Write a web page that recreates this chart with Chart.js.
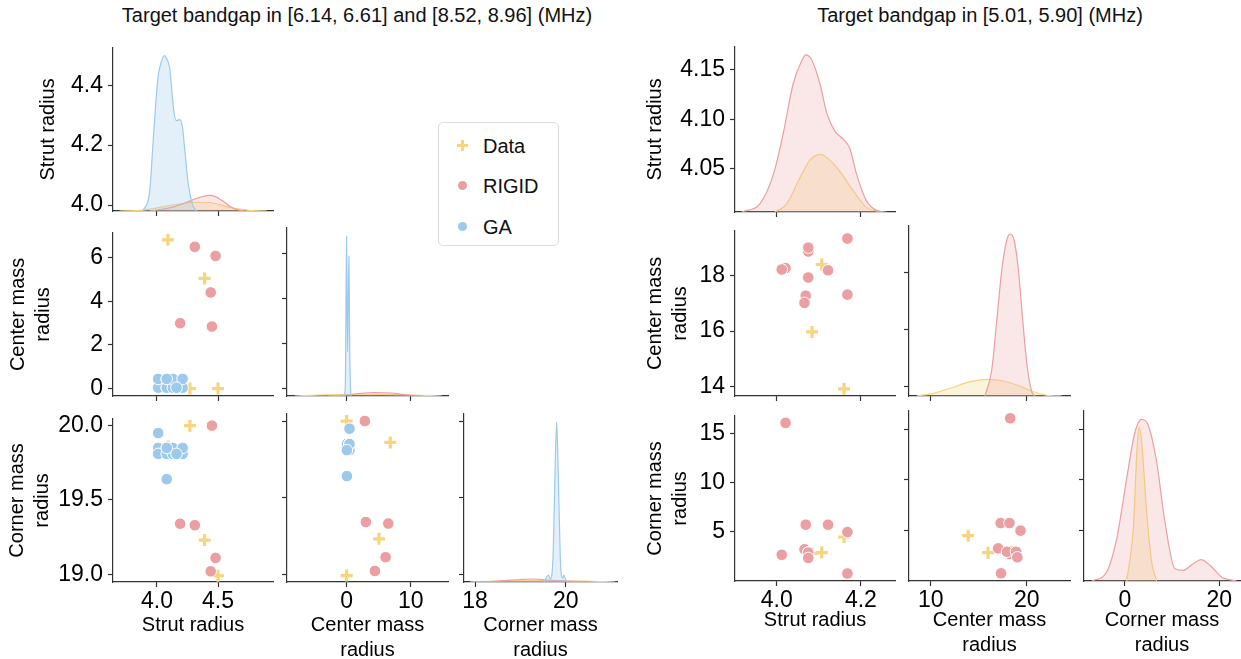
<!DOCTYPE html>
<html>
<head>
<meta charset="utf-8">
<script src="https://cdn.jsdelivr.net/npm/chart.js@4.4.1/dist/chart.umd.min.js"></script>
<style>
  html, body { margin: 0; padding: 0; background: #fff; width: 1241px; height: 659px; overflow: hidden; position: relative; }
  .ttl { position: absolute; top: 3px; font: 20px "Liberation Sans", Arial, sans-serif; color: #111; white-space: nowrap; transform: translateX(-50%); line-height: 24px; }
  .legend { position: absolute; left: 438px; top: 122px; width: 121px; height: 124px; border: 1px solid #dcdcdc; border-radius: 5px; box-sizing: border-box; background: #fff; font: 20px "Liberation Sans", Arial, sans-serif; color: #111; }
  .legend .item { position: absolute; left: 44px; line-height: 24px; }
  .legend .dot { position: absolute; left: 19px; width: 9px; height: 9px; border-radius: 50%; }
  .legend .plus { position: absolute; left: 18px; width: 11px; height: 11px; }
  .legend .plus::before, .legend .plus::after { content: ""; position: absolute; background: #f6d57c; }
  .legend .plus::before { left: 4px; top: 0; width: 3px; height: 11px; }
  .legend .plus::after { left: 0; top: 4px; width: 11px; height: 3px; }
</style>
</head>
<body>
<div class="ttl" style="left:357px">Target bandgap in [6.14, 6.61] and [8.52, 8.96] (MHz)</div>
<div class="ttl" style="left:980px">Target bandgap in [5.01, 5.90] (MHz)</div>
<div class="legend">
  <span class="plus" style="top:17px"></span><span class="item" style="top:11px">Data</span>
  <span class="dot" style="top:58px;background:#eb9fa2"></span><span class="item" style="top:51px">RIGID</span>
  <span class="dot" style="top:99px;background:#9dcaea"></span><span class="item" style="top:92px">GA</span>
</div>
<script>
// ---- названия переменных и подписи осей ----
const varNames = ['Strut radius', ['Center mass', 'radius'], ['Corner mass', 'radius']];

// ---- левая панель: точки ----
const leftDataStrut  = [4.09, 4.39, 4.27, 4.50];
const leftDataCenter = [6.81, 5.04, 0.00, 0.00];
const leftDataCorner = [19.86, 19.23, 20.00, 18.99];

const leftRigidStrut  = [4.45, 4.19, 4.31, 4.48, 4.44];
const leftRigidCenter = [2.84, 2.99, 6.49, 6.07, 4.40];
const leftRigidCorner = [20.00, 19.34, 19.33, 19.11, 19.02];

const leftGaStrut  = [4.01, 4.01, 4.01, 4.08, 4.08, 4.08, 4.13, 4.13, 4.21, 4.21, 4.08, 4.16];
const leftGaCenter = [0.44, 0.04, 0.44, 0.04, 0.44, 0.04, 0.04, 0.44, 0.04, 0.44, 0.44, 0.04];
const leftGaCorner = [19.95, 19.85, 19.81, 19.85, 19.81, 19.64, 19.81, 19.85, 19.81, 19.85, 19.85, 19.81];

// ---- левая панель: KDE (x, плотность) ----
const lStrutGaX = [3.885, 3.940, 3.973, 4.008, 4.036, 4.063, 4.079, 4.104, 4.137, 4.159, 4.186, 4.208, 4.227, 4.254, 4.290, 4.323];
const lStrutGaY = [0, 0.20, 0.80, 1.37, 1.54, 1.60, 1.57, 1.47, 1.04, 0.93, 0.94, 0.87, 0.64, 0.30, 0.07, 0];
const lStrutRigidX = [3.940, 3.998, 4.129, 4.243, 4.350, 4.432, 4.473, 4.530, 4.596, 4.653, 4.719];
const lStrutRigidY = [0, 0.01, 0.04, 0.09, 0.14, 0.16, 0.15, 0.11, 0.05, 0.015, 0];
const lStrutDataX = [3.694, 3.883, 4.129, 4.325, 4.448, 4.571, 4.735, 4.899];
const lStrutDataY = [0, 0.01, 0.06, 0.09, 0.085, 0.045, 0.01, 0];

const lCenterGaX = [-0.45, -0.20, -0.08, 0.00, 0.07, 0.15, 0.25, 0.36, 0.46, 0.60, 0.72];
const lCenterGaY = [0, 0.10, 1.10, 1.60, 0.90, 0.44, 0.95, 1.40, 0.60, 0.08, 0];
const lCenterRigidX = [-3, 0, 2, 4.5, 7, 9, 12];
const lCenterRigidY = [0, 0.01, 0.025, 0.035, 0.03, 0.015, 0];
const lCenterDataX = [-8.1, -4, 0, 3, 6, 10, 14.8];
const lCenterDataY = [0, 0.01, 0.015, 0.02, 0.015, 0.01, 0];

const lCornerGaX = [19.52, 19.58, 19.62, 19.66, 19.72, 19.77, 19.80, 19.83, 19.88, 19.93, 19.96, 20.00, 20.05];
const lCornerGaY = [0, 0.05, 0.07, 0.03, 0.25, 1.20, 1.60, 1.20, 0.25, 0.04, 0.07, 0.02, 0];
const lCornerRigidX = [18.0, 18.5, 19.0, 19.3, 19.6, 20.0, 20.5];
const lCornerRigidY = [0, 0.01, 0.025, 0.03, 0.02, 0.01, 0];
const lCornerDataX = [17.89, 18.5, 19.2, 19.8, 20.4, 21.09];
const lCornerDataY = [0, 0.01, 0.012, 0.012, 0.01, 0];

// ---- правая панель: точки ----
const rightDataStrut  = [4.107, 4.084, 4.160];
const rightDataCenter = [18.41, 15.97, 13.91];
const rightDataCorner = [2.89, 2.80, 4.47];

const rightRigidStrut  = [4.021, 4.069, 4.122, 4.168, 4.168, 4.012, 4.066, 4.075, 4.075, 4.075];
const rightRigidCenter = [18.28, 17.28, 18.20, 19.35, 17.32, 18.23, 17.02, 17.94, 18.88, 19.02];
const rightRigidCorner = [16.06, 5.72, 5.72, 4.97, 0.76, 2.66, 3.22, 2.89, 2.89, 2.34];

// ---- правая панель: KDE ----
const rStrutRigidX = [3.917, 3.960, 3.992, 4.016, 4.039, 4.059, 4.069, 4.083, 4.103, 4.119, 4.138, 4.158, 4.174, 4.190, 4.213, 4.237, 4.261];
const rStrutRigidY = [0, 0.084, 0.384, 0.817, 1.317, 1.55, 1.617, 1.567, 1.317, 1.017, 0.834, 0.75, 0.65, 0.384, 0.117, 0.017, 0];
const rStrutDataX = [3.996, 4.024, 4.055, 4.079, 4.105, 4.126, 4.150, 4.182, 4.213, 4.249];
const rStrutDataY = [0, 0.084, 0.35, 0.534, 0.594, 0.534, 0.417, 0.217, 0.05, 0];

const rCenterRigidX = [15.66, 16.35, 16.88, 17.40, 17.92, 18.26, 18.68, 19.13, 19.58, 20.00, 20.52, 20.86];
const rCenterRigidY = [0, 0.26, 0.76, 1.26, 1.56, 1.62, 1.56, 1.26, 0.76, 0.327, 0.043, 0];
const rCenterDataX = [8.54, 10.27, 12.01, 13.75, 16.00, 17.56, 18.96, 20.69, 22.43, 23.65];
const rCenterDataY = [0, 0.027, 0.077, 0.134, 0.167, 0.15, 0.11, 0.043, 0.003, 0];

const rCornerRigidX = [-7.06, -3.88, -1.76, 0.36, 2.12, 3.54, 4.94, 6.72, 8.48, 10.6, 12.36, 14.48, 16.11, 18.02, 20.5, 23.68];
const rCornerRigidY = [0, 0.09, 0.423, 1.023, 1.49, 1.617, 1.557, 1.19, 0.59, 0.123, 0.107, 0.173, 0.213, 0.157, 0.04, 0];
const rCornerDataX = [0.36, 1.76, 2.61, 3.03, 3.60, 4.60, 5.66, 6.72];
const rCornerDataY = [0, 0.523, 1.36, 1.54, 1.36, 0.69, 0.19, 0];

// ---- тики ----
const lStrutTicks = [4.0, 4.5], lStrutYTicks = [4.0, 4.2, 4.4];
const lCenterTicks = [0, 10], lCenterYTicks = [0, 2, 4, 6];
const lCornerTicks = [18, 20], lCornerYTicks = [19.0, 19.5, 20.0];
const rStrutTicks = [4.0, 4.2], rStrutYTicks = [4.05, 4.10, 4.15];
const rCenterTicks = [10, 20], rCenterYTicks = [14, 16, 18];
const rCornerTicks = [0, 20], rCornerYTicks = [5, 10, 15];

/* ── оформление ───────────────────────────────────────── */
const FONT = '"Liberation Sans", Arial, sans-serif';
const AX = '#333', TXT = '#000';
const C_DATA = '#f6d57c', C_RIGID = '#eb9fa2', C_GA = '#9dcaea';
const F_DATA = 'rgba(246,213,124,0.28)', F_RIGID = 'rgba(235,159,162,0.25)', F_GA = 'rgba(157,202,234,0.28)';
const PADL = 140, PADR = 14, PADT = 14, PADB = 90, LH = 25;

function pts(xs, ys) { return xs.map((x, i) => ({ x: x, y: ys[i] })); }

function kde(xs, ys, color, fill) {
    return { data: pts(xs, ys), borderColor: color, backgroundColor: fill, borderWidth: 1.2,
             fill: 'origin', pointRadius: 0, cubicInterpolationMode: 'monotone', yAxisID: 'yd' };
}
function dots(xs, ys, color) {
    return { data: pts(xs, ys), pointStyle: 'circle', pointRadius: 5.8, backgroundColor: color,
             borderColor: '#fff', borderWidth: 1, clip: false };
}
function plus(xs, ys) {
    return { data: pts(xs, ys), pointStyle: 'cross', pointRadius: 6, borderColor: C_DATA,
             borderWidth: 3.2, clip: false };
}

function axis(range, ticks, dec, showLabels, title, fit, horiz) {
    return {
        type: 'linear', min: range[0], max: range[1],
        afterBuildTicks: s => { s.ticks = ticks.map(v => ({ value: v })); },
        afterFit: fit,
        grid: { display: true, drawOnChartArea: false, drawTicks: true, tickLength: 5, color: AX, tickWidth: 1.2 },
        border: { display: true, color: AX, width: 1.2 },
        ticks: { display: showLabels, autoSkip: false, maxRotation: 0, padding: horiz ? 1 : 5, color: TXT,
                 font: { family: FONT, size: 23 }, callback: v => Number(v).toFixed(dec) },
        title: title
    };
}

function panel(p) {
    const W = p.x1 - p.x0, H = p.y1 - p.y0;
    const cw = PADL + W + PADR, ch = PADT + H + PADB;
    const cv = document.createElement('canvas');
    cv.width = cw; cv.height = ch;
    cv.style.cssText = 'position:absolute;left:' + (p.x0 - PADL) + 'px;top:' + (p.y0 - PADT) + 'px;width:' + cw + 'px;height:' + ch + 'px';
    document.body.appendChild(cv);

    const tfont = { family: FONT, size: 20, lineHeight: LH / 20 };
    let xTitle = { display: false }, yTitle = { display: false };
    if (p.xTitle) {
        const n = Array.isArray(p.xTitle) ? p.xTitle.length : 1;
        xTitle = { display: true, text: p.xTitle, color: TXT, font: tfont,
                   padding: { top: 0, bottom: p.y1 + PADB - p.xTitleY - LH * (n - 1) - LH / 2 } };
    }
    if (p.yTitle) {
        yTitle = { display: true, text: p.yTitle, color: TXT, font: tfont,
                   padding: { top: p.yTitleX - (p.x0 - PADL) - LH / 2, bottom: 0 } };
    }
    const scales = {
        x: axis(p.xr, p.xt, p.xd, p.showX, xTitle, s => { s.height = PADB; }, true),
        y: axis(p.yr, p.yt, p.yd, p.showY, yTitle, s => { s.width = PADL; }, false)
    };
    if (p.diag) scales.yd = { display: false, min: 0, max: H / 100 };

    new Chart(cv, {
        type: p.diag ? 'line' : 'scatter',
        data: { datasets: p.datasets },
        options: {
            responsive: false, animation: false, devicePixelRatio: 1,
            layout: { padding: { left: 0, top: PADT, right: PADR, bottom: 0 } },
            plugins: { legend: { display: false }, tooltip: { enabled: false } },
            scales: scales
        }
    });
}

/* ── сборка pairplot ──────────────────────────────────── */
function pairplot(cfg) {
    for (let r = 0; r < 3; r++) {
        for (let c = 0; c <= r; c++) {
            const ds = (r === c) ? cfg.kdes[c]
                : [].concat(
                    cfg.ga ? [dots(cfg.ga[c], cfg.ga[r], C_GA)] : [],
                    [dots(cfg.rigid[c], cfg.rigid[r], C_RIGID)],
                    [plus(cfg.data[c], cfg.data[r])]
                );
            panel({
                x0: cfg.cols[c][0], x1: cfg.cols[c][1], y0: cfg.rows[r][0], y1: cfg.rows[r][1],
                xr: cfg.xr[c], xt: cfg.xt[c], xd: cfg.xd[c],
                yr: cfg.yr[r], yt: cfg.yt[r], yd: cfg.ydec[r],
                showX: r === 2, showY: c === 0,
                xTitle: r === 2 ? varNames[c] : null, xTitleY: cfg.xTitleY,
                yTitle: c === 0 ? varNames[r] : null, yTitleX: cfg.yTitleX[r],
                diag: r === c, datasets: ds
            });
        }
    }
}

pairplot({
    cols: [[113, 273], [287, 448], [464, 617]],
    rows: [[43, 211], [228, 396], [414, 582]],
    xr: [[3.64, 4.95], [-9.3, 15.8], [17.757, 21.131]],
    yr: [[3.98, 4.525], [-0.34, 7.13], [18.948, 20.046]],
    xt: [lStrutTicks, lCenterTicks, lCornerTicks], xd: [1, 0, 0],
    yt: [lStrutYTicks, lCenterYTicks, lCornerYTicks], ydec: [1, 0, 1],
    xTitleY: 625, yTitleX: [48, 18, 17],
    data: [leftDataStrut, leftDataCenter, leftDataCorner],
    rigid: [leftRigidStrut, leftRigidCenter, leftRigidCorner],
    ga: [leftGaStrut, leftGaCenter, leftGaCorner],
    kdes: [
        [kde(lStrutGaX, lStrutGaY, C_GA, F_GA), kde(lStrutRigidX, lStrutRigidY, C_RIGID, F_RIGID), kde(lStrutDataX, lStrutDataY, C_DATA, F_DATA)],
        [kde(lCenterGaX, lCenterGaY, C_GA, F_GA), kde(lCenterRigidX, lCenterRigidY, C_RIGID, F_RIGID), kde(lCenterDataX, lCenterDataY, C_DATA, F_DATA)],
        [kde(lCornerGaX, lCornerGaY, C_GA, F_GA), kde(lCornerRigidX, lCornerRigidY, C_RIGID, F_RIGID), kde(lCornerDataX, lCornerDataY, C_DATA, F_DATA)]
    ]
});

pairplot({
    cols: [[735, 895], [909, 1070], [1084, 1240]],
    rows: [[42, 212], [226, 396], [411, 581]],
    xr: [[3.901, 4.281], [7.74, 24.5], [-8.69, 24.4]],
    yr: [[4.0066, 4.173], [13.65, 19.63], [0.0, 16.78]],
    xt: [rStrutTicks, rCenterTicks, rCornerTicks], xd: [1, 0, 0],
    yt: [rStrutYTicks, rCenterYTicks, rCornerYTicks], ydec: [2, 0, 0],
    xTitleY: 620.5, yTitleX: [655.5, 655.5, 655.5],
    data: [rightDataStrut, rightDataCenter, rightDataCorner],
    rigid: [rightRigidStrut, rightRigidCenter, rightRigidCorner],
    ga: null,
    kdes: [
        [kde(rStrutRigidX, rStrutRigidY, C_RIGID, F_RIGID), kde(rStrutDataX, rStrutDataY, C_DATA, F_DATA)],
        [kde(rCenterRigidX, rCenterRigidY, C_RIGID, F_RIGID), kde(rCenterDataX, rCenterDataY, C_DATA, F_DATA)],
        [kde(rCornerRigidX, rCornerRigidY, C_RIGID, F_RIGID), kde(rCornerDataX, rCornerDataY, C_DATA, F_DATA)]
    ]
});
</script>
</body>
</html>
